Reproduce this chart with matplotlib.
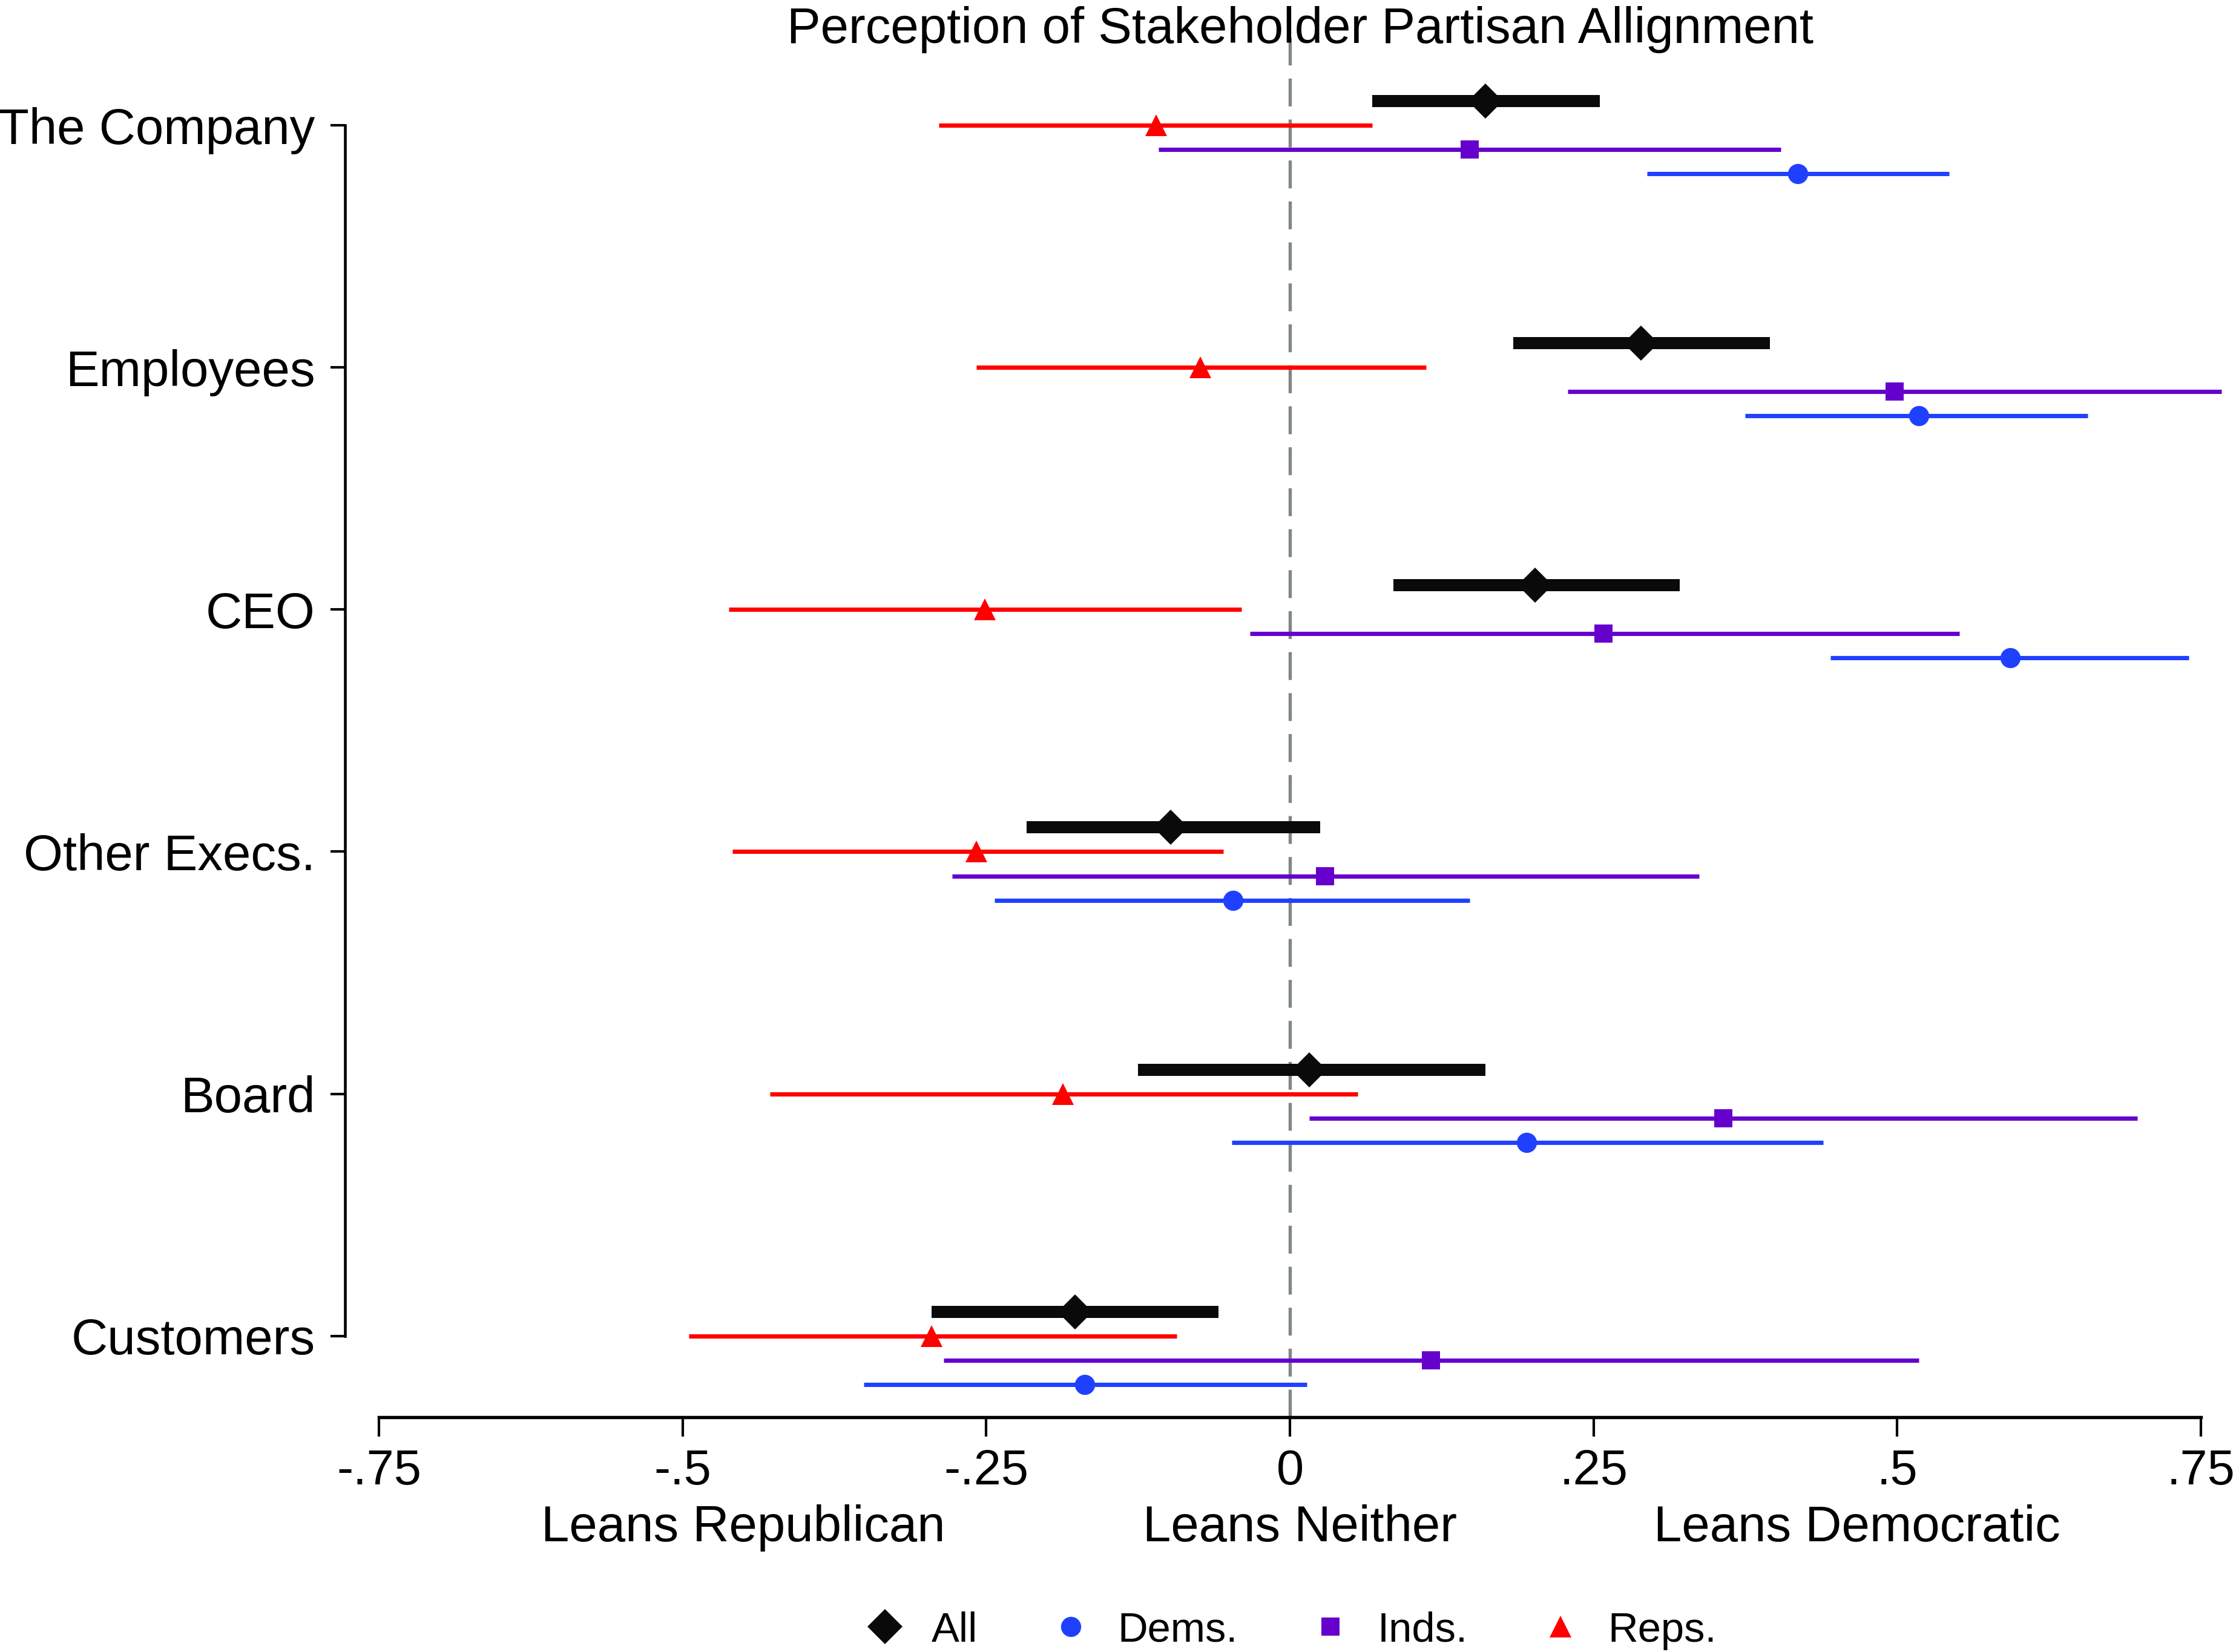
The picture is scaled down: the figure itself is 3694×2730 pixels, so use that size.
import numpy as np
import matplotlib.pyplot as plt
from matplotlib.lines import Line2D

plt.rcParams['font.family'] = ['Liberation Sans', 'DejaVu Sans']

categories = ['The Company', 'Employees', 'CEO', 'Other Execs.', 'Board', 'Customers']

# point estimates and 95% CI bounds
all_est = [0.161, 0.289, 0.202, -0.098, 0.016, -0.177]
all_lo = [0.068, 0.184, 0.085, -0.217, -0.125, -0.295]
all_hi = [0.255, 0.395, 0.321, 0.025, 0.161, -0.059]

reps_est = [-0.110, -0.074, -0.251, -0.258, -0.187, -0.295]
reps_lo = [-0.289, -0.258, -0.462, -0.459, -0.428, -0.495]
reps_hi = [0.068, 0.112, -0.040, -0.055, 0.056, -0.093]

inds_est = [0.148, 0.498, 0.258, 0.029, 0.357, 0.116]
inds_lo = [-0.108, 0.229, -0.033, -0.278, 0.016, -0.285]
inds_hi = [0.404, 0.767, 0.551, 0.337, 0.698, 0.518]

dems_est = [0.418, 0.518, 0.593, -0.047, 0.195, -0.169]
dems_lo = [0.294, 0.375, 0.445, -0.243, -0.048, -0.351]
dems_hi = [0.543, 0.657, 0.740, 0.148, 0.439, 0.014]

xticks = [-0.75, -0.5, -0.25, 0, 0.25, 0.5, 0.75]
xticklabels = ['-.75', '-.5', '-.25', '0', '.25', '.5', '.75']

lean_labels = ['Leans Republican', 'Leans Neither', 'Leans Democratic']
lean_pos = [-0.45, 0.008, 0.467]

BLACK = '#0a0a0a'
RED = '#ff0000'
PURPLE = '#6600cc'
BLUE = '#2040ff'

fig = plt.figure(figsize=(3694 / 300, 2730 / 300), dpi=300)
ax = fig.add_axes([0.1543, 0.1422, 0.8457, 0.8388])

y = np.arange(len(categories))

ax.axvline(0, color='#7f8787', lw=1.3, ls=(0, (8.5, 4)), zorder=1)

series = [
    ('All', all_est, all_lo, all_hi, -0.1, BLACK, 'D', 9.8, 4.8),
    ('Reps.', reps_est, reps_lo, reps_hi, 0.0, RED, '^', 8.5, 1.7),
    ('Inds.', inds_est, inds_lo, inds_hi, 0.1, PURPLE, 's', 7.0, 1.7),
    ('Dems.', dems_est, dems_lo, dems_hi, 0.2, BLUE, 'o', 8.0, 1.7),
]
for name, est, lo, hi, off, col, mk, ms, lw in series:
    yy = y + off
    ax.hlines(yy, lo, hi, color=col, lw=lw, zorder=2, clip_on=False)
    ax.plot(est, yy, ls='none', marker=mk, ms=ms, color=col, mew=0, zorder=3, clip_on=False)

ax.set_xlim(-0.778, 0.779)
ax.set_ylim(5.335, -0.388)

ax.set_yticks(y, categories, fontsize=20)
ax.set_xticks(xticks, xticklabels, fontsize=19.5)
ax.tick_params(axis='y', length=5.8, width=1.0, pad=6)
ax.tick_params(axis='x', length=7.6, width=1.0, pad=5)

for side in ['top', 'right']:
    ax.spines[side].set_visible(False)
ax.spines['left'].set_bounds(0, 5)
ax.spines['bottom'].set_bounds(-0.75, 0.75)
ax.spines['left'].set_linewidth(1.1)
ax.spines['bottom'].set_linewidth(1.3)

for lab, xp in zip(lean_labels, lean_pos):
    ax.text(xp, -0.080, lab, transform=ax.get_xaxis_transform(),
            ha='center', va='center', fontsize=20)

fig.text(0.5816, 0.982, 'Perception of Stakeholder Partisan Allignment',
         ha='center', va='center', fontsize=20)

handles = [
    Line2D([], [], ls='none', marker='D', ms=9.8, color=BLACK, mew=0),
    Line2D([], [], ls='none', marker='o', ms=8.0, color=BLUE, mew=0),
    Line2D([], [], ls='none', marker='s', ms=7.0, color=PURPLE, mew=0),
    Line2D([], [], ls='none', marker='^', ms=8.5, color=RED, mew=0),
]
fig.legend(handles, ['All', 'Dems.', 'Inds.', 'Reps.'], loc='center',
           bbox_to_anchor=(0.577, 0.013), ncol=4, frameon=False, fontsize=16.5,
           handlelength=1.0, handletextpad=0.63, columnspacing=1.73)

fig.savefig('out.png', dpi=300)
